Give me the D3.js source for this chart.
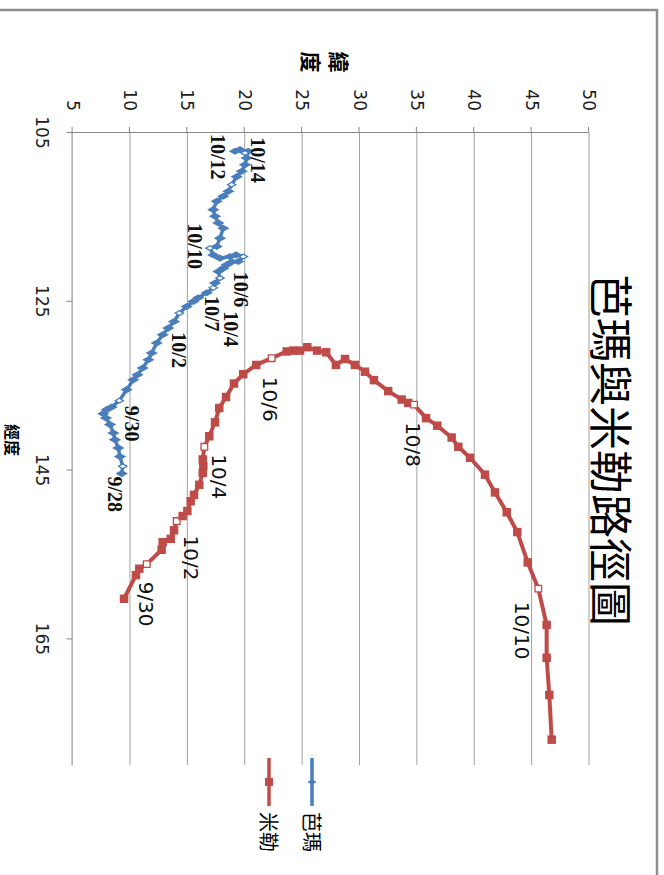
<!DOCTYPE html>
<html>
<head>
<meta charset="utf-8">
<script src="https://cdn.jsdelivr.net/npm/d3@7/dist/d3.min.js"></script>
<style>
body {margin:0; background:#fff}
</style>
</head>
<body>
<script>
// track data (lat = 緯度, lon = 經度)
var bamaLat = [9.28,9.37,9.13,8.98,8.69,8.55,8.26,7.91,7.68,7.97,8.41,9.07,9.71,10.29,10.66,11.11,11.6,11.89,12.33,12.85,
	       13.34,13.84,14.3,14.94,15.52,15.95,16.69,17.26,17.41,17.84,17.7,18.13,18.43,18.89,19.44,19.87,19.24,18.72,17.84,17.26,
	       16.97,17.56,17.84,18.13,17.7,17.41,17.26,17.56,18.13,18.57,18.86,19.3,19.74,20.02,20.17,20.31,20.02,19.59,19.15]
var bamaLon = [145.47,144.6,143.46,142.43,141.45,140.66,139.67,138.88,138.37,137.9,137.58,136.83,135.53,134.35,133.76,132.96,131.98,131.19,130.0,129.02,
	       128.23,127.45,126.46,125.67,125.08,124.64,124.05,123.46,122.9,122.31,121.53,121.13,120.74,120.38,120.35,119.76,119.56,119.76,119.95,119.56,
	       118.76,118.57,117.58,116.4,115.77,114.98,114.2,113.2,112.61,112.02,111.24,110.29,109.65,108.87,108.08,107.28,107.49,107.09,107.28]
var bamaLabelIdx = [1, 11, 22, 29, 35, 27, 40, 50, 56]
var bamaLabels = ['9/28','9/30','10/2','10/4','10/6','10/7','10/10','10/12','10/14']

var millerLat = [9.48,10.52,10.81,11.46,12.76,12.85,13.55,13.84,14.07,14.59,15.0,15.29,15.58,16.04,16.34,16.39,16.34,16.48,16.91,17.41,
		 17.78,18.37,19.06,19.87,21.0,22.35,23.66,24.23,24.82,25.45,26.3,27.1,27.95,28.74,29.6,30.48,31.26,32.5,33.68,34.25,
		 34.75,35.8,36.78,38.03,38.61,39.63,40.94,41.81,42.83,43.75,44.66,45.58,46.31,46.31,46.54,46.75]
var millerLon = [160.3,157.5,156.75,156.2,154.5,153.6,153.2,152.2,151.1,150.5,149.9,148.75,148.0,146.8,145.4,144.6,143.8,142.3,141.05,139.4,
		 137.7,136.4,134.8,133.7,132.6,131.8,131.0,130.9,130.9,130.5,130.9,131.1,132.6,131.9,132.6,133.4,134.4,135.7,136.7,137.1,
		 137.3,138.9,139.8,141.2,142.3,143.6,145.6,147.7,150.05,152.4,156.0,159.1,163.4,167.3,171.7,177.0]
var millerLabelIdx = [3, 8, 17, 25, 40, 51]
var millerLabels = ['9/30','10/2','10/4','10/6','10/8','10/10']

var lonTicks = [105, 125, 145, 165]
var latTicks = [5, 10, 15, 20, 25, 30, 35, 40, 45, 50]
var seriesNames = ['芭瑪', '米勒']
var titleText = '芭瑪與米勒路徑圖'

// layout: the chart is drawn lying down, then the whole group is turned 90deg
var blue = '#4a7ebb', red = '#be4b48'
var bamaLabelOff = [[28,8],[23,-13],[37,0],[51,-11],[33,2],[26,1],[-2,15],[-28,14],[7,-13]]
var millerLabelOff = [[40,1],[37,-14],[30,-15],[41,2],[40,1],[42,16]]

var svg = d3.select('body').append('svg')
    .attr('width', 664)
    .attr('height', 875)
var chart = svg.append('g')
    .attr('transform', 'translate(664,0) rotate(90)')

var xScale = d3.scaleLinear().domain([105, 180]).range([132, 765])
var yScale = d3.scaleLinear().domain([5, 50]).range([591.4, 75])

function addFrame(){
    chart.append('rect')
	.attr('x', 10).attr('y', 7)
	.attr('width', 1000).attr('height', 1000)
	.attr('fill', 'none')
	.attr('stroke', '#8e8e8e')
	.attr('stroke-width', 2.5)
}

function addGrid(){
    chart.append('g').selectAll('line')
	.data(latTicks.slice(1))
	.enter()
	.append('line')
	.attr('x1', xScale(105)).attr('x2', xScale(180))
	.attr('y1', function(d){return yScale(d)})
	.attr('y2', function(d){return yScale(d)})
	.attr('stroke', '#a0a0a0')
	.attr('stroke-width', 1)
}

function addAxes(){
    var ax = chart.append('g')
	.attr('transform', 'translate(0,' + yScale(5) + ')')
	.call(d3.axisBottom(xScale).tickValues(lonTicks).tickSizeInner(6).tickSizeOuter(0).tickPadding(19))
    var ay = chart.append('g')
	.attr('transform', 'translate(' + xScale(105) + ',0)')
	.call(d3.axisLeft(yScale).tickValues(latTicks).tickSizeInner(5).tickSizeOuter(0).tickPadding(16))
    ;[ax, ay].forEach(function(a){
	a.selectAll('path, line').attr('stroke', '#868686')
	a.selectAll('text')
	    .attr('fill', '#222')
	    .style('font-family', 'DejaVu Sans')
	    .style('font-size', '17px')
    })

    // 經度 under the x axis, 緯度 stacked beside the y axis
    chart.append('text')
	.attr('x', 440).attr('y', 651.5)
	.attr('text-anchor', 'middle')
	.attr('dominant-baseline', 'central')
	.style('font-family', 'Noto Sans CJK TC')
	.style('font-weight', 'bold')
	.style('font-size', '16px')
	.text('經度')
    chart.append('g').selectAll('text')
	.data(['緯', '度'])
	.enter()
	.append('text')
	.attr('x', 62)
	.attr('y', function(d,i){return 324 + i * 28})
	.attr('text-anchor', 'middle')
	.attr('dominant-baseline', 'central')
	.style('font-family', 'Noto Sans CJK TC')
	.style('font-weight', 'bold')
	.style('font-size', '21px')
	.text(function(d){return d})
}

function addSeries(lat, lon, color, width, symbol, size, hollowSize, labelIdx, labels, labelOff, labelFont){
    var pts = lat.map(function(d,i){return [xScale(lon[i]), yScale(d)]})
    var g = chart.append('g')
    g.append('path')
	.attr('d', d3.line()(pts))
	.attr('fill', 'none')
	.attr('stroke', color)
	.attr('stroke-width', width)
	.attr('stroke-linejoin', 'round')
    g.selectAll('path.mk')
	.data(pts)
	.enter()
	.append('path')
	.attr('class', 'mk')
	.attr('transform', function(d){return 'translate(' + d[0] + ',' + d[1] + ')'})
	.attr('d', function(d,i){
	    return d3.symbol().type(symbol).size(labelIdx.indexOf(i) >= 0 ? hollowSize : size)()})
	.attr('fill', function(d,i){return labelIdx.indexOf(i) >= 0 ? '#fff' : color})
	.attr('stroke', color)
	.attr('stroke-width', function(d,i){return labelIdx.indexOf(i) >= 0 ? 1.3 : 0})
    g.selectAll('text')
	.data(labels)
	.enter()
	.append('text')
	.attr('x', function(d,i){return pts[labelIdx[i]][0] + labelOff[i][0]})
	.attr('y', function(d,i){return pts[labelIdx[i]][1] + labelOff[i][1]})
	.attr('text-anchor', 'middle')
	.attr('dominant-baseline', 'central')
	.attr('fill', '#111')
	.style('font-family', labelFont[0])
	.style('font-weight', labelFont[1])
	.style('font-size', '20px')
	.text(function(d){return d})
}

function addTitle(){
    chart.append('text')
	.attr('x', 450).attr('y', 51)
	.attr('text-anchor', 'middle')
	.attr('dominant-baseline', 'central')
	.style('font-family', 'Noto Sans CJK TC')
	.style('font-size', '44px')
	.text(titleText)
}

function addLegend(){
    var items = [[seriesNames[0], blue, d3.symbolDiamond, 24, 352],
		 [seriesNames[1], red, d3.symbolSquare, 64, 395]]
    var lg = chart.append('g').selectAll('g')
	.data(items)
	.enter()
	.append('g')
	.attr('transform', function(d){return 'translate(0,' + d[4] + ')'})
    lg.append('line')
	.attr('x1', 758).attr('x2', 806)
	.attr('stroke', function(d){return d[1]})
	.attr('stroke-width', 3.5)
    lg.append('path')
	.attr('transform', 'translate(782,0)')
	.attr('d', function(d){return d3.symbol().type(d[2]).size(d[3])()})
	.attr('fill', function(d){return d[1]})
    lg.append('text')
	.attr('x', 812)
	.attr('dominant-baseline', 'central')
	.style('font-family', 'Noto Sans CJK TC')
	.style('font-size', '20px')
	.text(function(d){return d[0]})
}

addFrame()
addGrid()
addAxes()
addSeries(bamaLat, bamaLon, blue, 3.5, d3.symbolDiamond, 44, 20,
	  bamaLabelIdx, bamaLabels, bamaLabelOff, ['Liberation Serif', 'bold'])
addSeries(millerLat, millerLon, red, 4, d3.symbolSquare, 72, 44,
	  millerLabelIdx, millerLabels, millerLabelOff, ['DejaVu Sans', 'normal'])
addTitle()
addLegend()
</script>
</body>
</html>
